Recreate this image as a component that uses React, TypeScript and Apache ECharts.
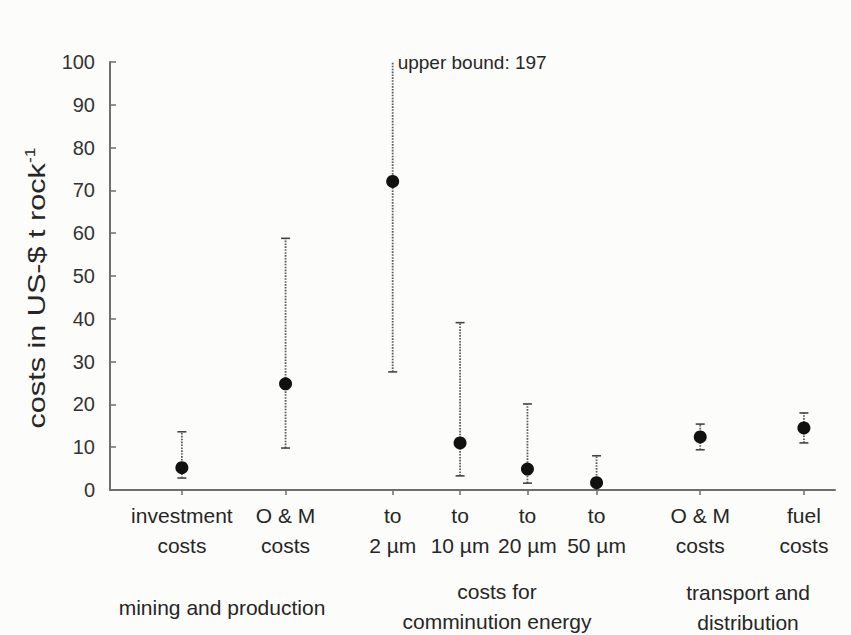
import React, { useEffect, useRef } from "react";
import * as echarts from "echarts";

// ---- data ----
const xLabels = [
  "investment\ncosts",
  "O & M\ncosts",
  "to\n2 µm",
  "to\n10 µm",
  "to\n20 µm",
  "to\n50 µm",
  "O & M\ncosts",
  "fuel\ncosts",
];
// category slots along the x axis (groups are separated by wider gaps)
const xSlots = [0, 3, 6.1, 8.05, 10, 12, 15, 18];
const means = [5.2, 24.8, 72.1, 11.0, 4.9, 1.7, 12.4, 14.5];
const lows = [2.8, 9.8, 27.6, 3.3, 1.6, 0, 9.4, 11.0];
const highs = [13.6, 58.8, 197, 39.1, 20.1, 8.0, 15.4, 18.0];
const yTicks = [0, 10, 20, 30, 40, 50, 60, 70, 80, 90, 100];
const groupLabels = ["mining and production", "costs for\ncomminution energy", "transport and\ndistribution"];

const FONT = "'Liberation Sans', Arial, sans-serif";
const TEXT = "#262626";
const AXIS = "#6e6e6e";

export default function App() {
  const ref = useRef<HTMLDivElement>(null);
  useEffect(() => {
    document.body.style.margin = "0";
    const chart = echarts.init(ref.current!, null, { renderer: "svg" });
    const yMax = yTicks[yTicks.length - 1];
    chart.setOption({
      animation: false,
      backgroundColor: "#fcfcfa",
      grid: { left: 110, right: 16, top: 62, bottom: 145 },
      xAxis: {
        type: "value",
        min: -2.08,
        max: 18.9,
        splitLine: { show: false },
        axisLine: { show: true, onZero: false, lineStyle: { color: AXIS, width: 2 } },
        axisTick: { show: true, customValues: xSlots, length: 5, lineStyle: { color: AXIS, width: 1.5 } },
        axisLabel: {
          customValues: xSlots,
          formatter: (v: number) => {
            const i = xSlots.findIndex((s) => Math.abs(s - v) < 1e-6);
            return i >= 0 ? xLabels[i] : "";
          },
          margin: 10,
          fontSize: 21,
          lineHeight: 30,
          color: TEXT,
          fontFamily: FONT,
        },
      },
      yAxis: {
        type: "value",
        min: yTicks[0],
        max: yMax,
        interval: 10,
        splitLine: { show: false },
        axisLine: { show: true, onZero: false, lineStyle: { color: AXIS, width: 2 } },
        axisTick: { show: true, inside: true, length: 6, lineStyle: { color: AXIS, width: 1.5 } },
        axisLabel: { fontSize: 20, color: "#333", fontFamily: FONT, margin: 15 },
      },
      graphic: [
        {
          type: "text",
          x: 37,
          y: 288,
          rotation: Math.PI / 2,
          scaleX: 1.25,
          style: {
            text: "{m|costs in US-$ t rock}{s|-1}",
            align: "center",
            verticalAlign: "middle",
            fill: TEXT,
            fontFamily: FONT,
            rich: {
              m: { fontSize: 24.5, fontFamily: FONT, fill: TEXT, color: TEXT },
              s: { fontSize: 14, fontFamily: FONT, color: TEXT, padding: [0, 0, 14, 0] },
            },
          },
        },
        {
          type: "text",
          x: 222,
          y: 607,
          style: { text: groupLabels[0], align: "center", verticalAlign: "middle", fontSize: 21, fontFamily: FONT, fill: TEXT },
        },
        {
          type: "text",
          x: 497,
          y: 606,
          style: { text: groupLabels[1], align: "center", verticalAlign: "middle", fontSize: 21, lineHeight: 30, fontFamily: FONT, fill: TEXT },
        },
        {
          type: "text",
          x: 748,
          y: 607,
          style: { text: groupLabels[2], align: "center", verticalAlign: "middle", fontSize: 21, lineHeight: 30, fontFamily: FONT, fill: TEXT },
        },
      ],
      series: [
        {
          type: "custom",
          z: 2,
          clip: false,
          data: xSlots.map((x, i) => [x, lows[i], highs[i]]),
          renderItem: (params: any, api: any) => {
            const x = api.value(0);
            const lo = api.value(1);
            const hi = api.value(2);
            const top = Math.min(hi, yMax);
            const pLo = api.coord([x, lo]);
            const pHi = api.coord([x, top]);
            const capW = 4.5;
            const children: any[] = [
              {
                type: "line",
                shape: { x1: pLo[0], y1: pLo[1], x2: pHi[0], y2: pHi[1] },
                style: { stroke: "#5a5a5a", lineWidth: 1.8, lineDash: [1.6, 1.3] },
              },
            ];
            if (lo > 0) {
              children.push({
                type: "line",
                shape: { x1: pLo[0] - capW, y1: pLo[1], x2: pLo[0] + capW, y2: pLo[1] },
                style: { stroke: "#444", lineWidth: 1.6 },
              });
            }
            if (hi <= yMax) {
              children.push({
                type: "line",
                shape: { x1: pHi[0] - capW, y1: pHi[1], x2: pHi[0] + capW, y2: pHi[1] },
                style: { stroke: "#444", lineWidth: 1.6 },
              });
            } else {
              children.push({
                type: "text",
                x: pHi[0] + 5,
                y: pHi[1],
                style: {
                  text: "upper bound: " + hi,
                  align: "left",
                  verticalAlign: "middle",
                  fontSize: 19,
                  fontFamily: FONT,
                  fill: TEXT,
                },
              });
            }
            return { type: "group", children };
          },
        },
        {
          type: "scatter",
          z: 3,
          symbol: "circle",
          symbolSize: 13,
          itemStyle: { color: "#111", opacity: 1 },
          data: xSlots.map((x, i) => [x, means[i]]),
        },
      ],
    });
    return () => chart.dispose();
  }, []);
  return <div ref={ref} style={{ width: 851, height: 635 }} />;
}
